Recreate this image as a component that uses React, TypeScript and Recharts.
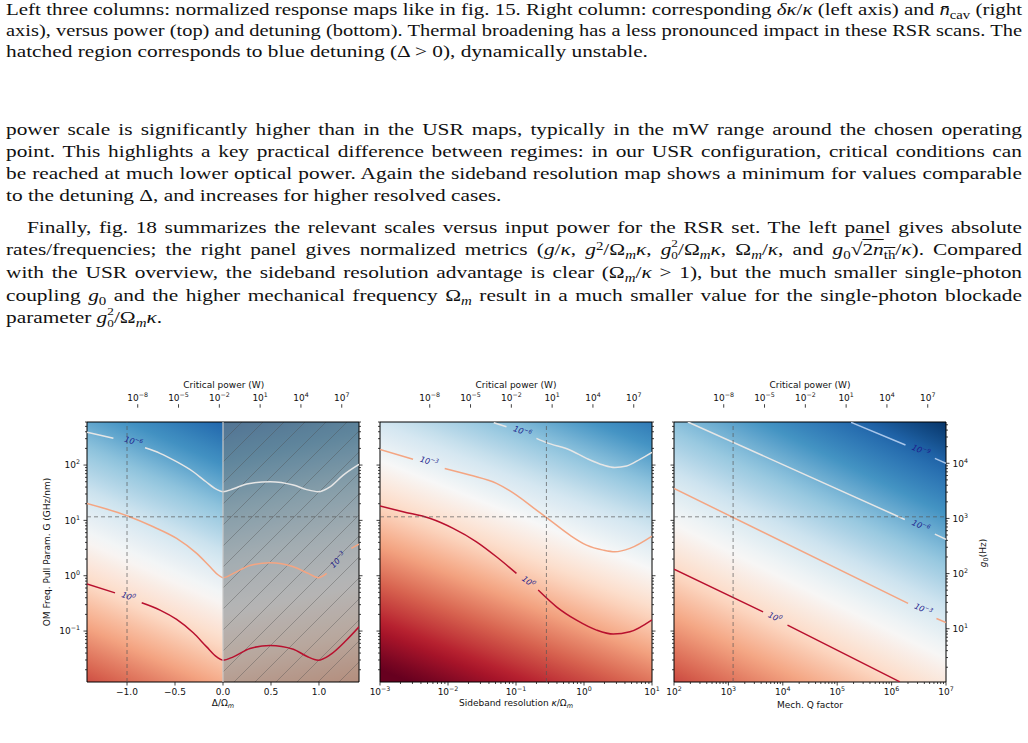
import React, { useLayoutEffect, useRef, useState } from 'react';
import { ComposedChart, Line, XAxis, YAxis, ReferenceArea, ReferenceLine, ReferenceDot } from 'recharts';

type Pt = [number, number | null];

// Critical-power contours, detuning sweep (x: Δ/Ωm, y: G in GHz/nm). null = gap for the inline label
const detuningLevelM6: Pt[] = [
  [-1.417, 392], [-1.142, 304], [-0.98, null], [-0.8125, 205], [-0.656, 163], [-0.484, 115],
  [-0.31, 75.7], [-0.177, 49.9], [-0.066, 36.3], [0, 33], [0.108, 37.3], [0.247, 45.3],
  [0.49, 50], [0.733, 43.5], [0.872, 36], [0.993, 33], [1.115, 40.5], [1.253, 66], [1.417, 103],
];
const detuningLevelM3: Pt[] = [
  [-1.417, 20.2], [-0.993, 12], [-0.726, 7.66], [-0.483, 4.72], [-0.274, 2.53], [-0.135, 1.45],
  [-0.049, 1.03], [0, 0.92], [0.108, 1.1], [0.281, 1.53], [0.49, 1.71], [0.733, 1.45],
  [0.889, 1.1], [0.993, 0.92], [1.08, 1.1], [1.2, null], [1.337, 3.12], [1.417, 3.72],
];
const detuningLevel0: Pt[] = [
  [-1.417, 0.71], [-1.125, 0.49], [-0.99, null], [-0.847, 0.324], [-0.656, 0.239], [-0.483, 0.162],
  [-0.31, 0.093], [-0.17, 0.0518], [-0.066, 0.0342], [0, 0.0298], [0.108, 0.0342], [0.281, 0.0484],
  [0.49, 0.055], [0.733, 0.047], [0.872, 0.035], [0.993, 0.0298], [1.115, 0.037], [1.285, 0.068], [1.417, 0.119],
];

// Sideband resolution sweep (x: κ/Ωm)
const sidebandLevelM6: Pt[] = [
  [0.0471, 582], [0.0724, 493], [0.124, null], [0.2, 304], [0.281, 254], [0.619, 187], [1.09, 132],
  [1.92, 100], [2.84, 90.8], [4.23, 96], [6.64, 127], [10, 170],
];
const sidebandLevelM3: Pt[] = [
  [0.001, 192], [0.00306, 127], [0.0053, null], [0.00895, 87], [0.0209, 65.9], [0.0516, 46.7],
  [0.1016, 28.7], [0.2, 15.3], [0.315, 10.1], [0.619, 5.42], [1.09, 3.57], [1.92, 2.9],
  [2.84, 2.71], [4.73, 3.12], [10, 5.2],
];
const sidebandLevel0: Pt[] = [
  [0.001, 18.2], [0.00218, 14.3], [0.00538, 10.9], [0.0119, 7.16], [0.0262, 4.1], [0.0516, 2.2],
  [0.1016, 1.1], [0.151, null], [0.212, 0.55], [0.394, 0.274], [0.776, 0.157], [1.53, 0.104],
  [2.69, 0.088], [4.73, 0.097], [10, 0.16],
];

// Mechanical Q sweep (x: Q)
const qLevelM9: Pt[] = [[1.8e5, 590], [1.8e6, 230], [3.44e6, null], [6.24e6, 132], [1e7, 107]];
const qLevelM6: Pt[] = [[180, 600], [1.75e6, 10.4], [3.44e6, null], [6.24e6, 5.65], [1e7, 4.53]];
const qLevelM3: Pt[] = [[100, 37.8], [2.01e6, 0.316], [3.8e6, null], [6.68e6, 0.169], [1e7, 0.143]];
const qLevel0: Pt[] = [[100, 1.315], [4340, 0.222], [7110, null], [1.22e4, 0.128], [1.42e6, 0.0121]];

// inline contour labels: position in data units, exponent, rotation
const detuningLabels = [
  { x: -0.934, y: 264, exp: '−6', angle: 17 },
  { x: 1.2, y: 1.91, exp: '−3', angle: -45 },
  { x: -0.986, y: 0.416, exp: '0', angle: 20 },
];
const sidebandLabels = [
  { x: 0.124, y: 400, exp: '−6', angle: 21 },
  { x: 0.00526, y: 115, exp: '−3', angle: 16 },
  { x: 0.151, y: 0.776, exp: '0', angle: 37 },
];
const qLabels = [
  { x: 3.44e6, y: 182, exp: '−9', angle: 23 },
  { x: 3.44e6, y: 7.89, exp: '−6', angle: 25 },
  { x: 3.8e6, y: 0.245, exp: '−3', angle: 25 },
  { x: 7110, y: 0.176, exp: '0', angle: 25 },
];

// operating point markers
const G_OPERATING = 11.6;
const DETUNING_OPERATING = -1;
const SIDEBAND_OPERATING = 0.28;
const Q_OPERATING = 1220;

const detuningTicks = [-1, -0.5, 0, 0.5, 1];
const powerTicks = [1e-8, 1e-5, 1e-2, 1e1, 1e4, 1e7];

const G_DOMAIN: [number, number] = [0.012, 600];
const G0_DOMAIN: [number, number] = [1.08, 56100];
const DETUNING_DOMAIN: [number, number] = [-1.417, 1.417];
const SIDEBAND_DOMAIN: [number, number] = [1e-3, 10];
const Q_DOMAIN: [number, number] = [1e2, 1e7];
const CB_LO = -10.7;
const CB_HI = 7.35;
const POWER_DOMAIN: [number, number] = [Math.pow(10, CB_LO), Math.pow(10, CB_HI)];

const C_LIGHT = '#e6e6e6';
const C_ORANGE = '#f4a582';
const C_RED = '#b8102e';
const C_PALE_BLUE = '#a9c6ea';
const LABEL_BLUE = '#1d1d8c';
const FONT = "'DejaVu Sans', sans-serif";

const RDBU_R = ['#053061', '#2166ac', '#4393c3', '#92c5de', '#d1e5f0', '#f7f7f7', '#fddbc7', '#f4a582', '#d6604d', '#b2182b', '#67001f'];

function cmap(t: number) {
  const s = Math.max(0, Math.min(1, t)) * 10;
  const i = Math.min(9, Math.floor(s));
  const f = s - i;
  const a = RDBU_R[i], b = RDBU_R[i + 1];
  const ch = (h: string, k: number) => parseInt(h.slice(1 + 2 * k, 3 + 2 * k), 16);
  const mix = [0, 1, 2].map((k) => Math.round(ch(a, k) * (1 - f) + ch(b, k) * f));
  return `rgb(${mix.join(',')})`;
}

function logTicks(lo: number, hi: number) {
  const out: number[] = [];
  for (let e = Math.floor(Math.log10(lo)); e <= Math.ceil(Math.log10(hi)); e++) {
    for (let m = 1; m <= 9; m++) {
      const v = m * Math.pow(10, e);
      if (v >= lo * 0.999 && v <= hi * 1.001) out.push(v);
    }
  }
  return out;
}

const isDecade = (v: number) => Math.abs(Math.log10(v) - Math.round(Math.log10(v))) < 1e-6;

const G_TICKS = logTicks(G_DOMAIN[0], G_DOMAIN[1]);
const G0_TICKS = logTicks(G0_DOMAIN[0], G0_DOMAIN[1]);
const SIDEBAND_TICKS = logTicks(SIDEBAND_DOMAIN[0], SIDEBAND_DOMAIN[1]);
const Q_TICKS = logTicks(Q_DOMAIN[0], Q_DOMAIN[1]);

const rows = (pts: Pt[]) => pts.map(([x, y]) => ({ x, y }));

// log10(P) = a + b*u + c*v over the unit box of the area it fills
function FieldGradient({ id, a, b, c }: { id: string; a: number; b: number; c: number }) {
  const r = Math.hypot(b, c);
  const dx = b / r, dy = c / r;
  const L = 0.5 * (Math.abs(dx) + Math.abs(dy));
  const mid = a + b / 2 + c / 2;
  const p0 = mid - r * L, p1 = mid + r * L;
  const n = 30;
  return (
    <linearGradient id={id} x1={0.5 - dx * L} y1={0.5 - dy * L} x2={0.5 + dx * L} y2={0.5 + dy * L}>
      {Array.from({ length: n + 1 }, (_, i) => {
        const o = i / n;
        const lp = p0 + (p1 - p0) * o;
        return <stop key={i} offset={o} stopColor={cmap((lp - CB_LO) / (CB_HI - CB_LO))} />;
      })}
    </linearGradient>
  );
}

function TickLabel({ x, y, v, fmt, anchor }: { x: number; y: number; v: number; fmt: string; anchor: 'start' | 'middle' | 'end' }) {
  if (fmt === 'lin') {
    return (
      <text x={x} y={y} textAnchor={anchor} fontSize={9} fontFamily={FONT} fill="#111">
        {v.toFixed(1).replace('-', '−')}
      </text>
    );
  }
  const e = Math.round(Math.log10(v));
  return (
    <text x={x} y={y} textAnchor={anchor} fontSize={9} fontFamily={FONT} fill="#111">
      10<tspan dy={-4} fontSize={6.3}>{String(e).replace('-', '−')}</tspan>
    </text>
  );
}

function AxisTick(props: any) {
  const { x, y, payload, side, show, fmt } = props;
  const v: number = payload.value;
  const major = fmt === 'lin' || isDecade(v);
  const len = major ? 3.5 : 2;
  const ls = { stroke: '#111', strokeWidth: 0.8 };
  if (side === 'left') {
    return (
      <g>
        <line x1={x} y1={y} x2={x - len} y2={y} {...ls} />
        {show && major && <TickLabel x={x - 7} y={y + 3.3} v={v} fmt={fmt} anchor="end" />}
      </g>
    );
  }
  if (side === 'right') {
    return (
      <g>
        <line x1={x} y1={y} x2={x + len} y2={y} {...ls} />
        {show && major && <TickLabel x={x + 6.5} y={y + 3.3} v={v} fmt={fmt} anchor="start" />}
      </g>
    );
  }
  if (side === 'top') {
    return (
      <g>
        <line x1={x} y1={y} x2={x} y2={y - len} {...ls} />
        {show && major && <TickLabel x={x} y={y - 7} v={v} fmt={fmt} anchor="middle" />}
      </g>
    );
  }
  return (
    <g>
      <line x1={x} y1={y} x2={x} y2={y + len} {...ls} />
      {show && major && <TickLabel x={x} y={y + 13} v={v} fmt={fmt} anchor="middle" />}
    </g>
  );
}

function LevelLabel(props: any) {
  const { cx, cy, exp, angle } = props;
  return (
    <text x={cx} y={cy} transform={`rotate(${angle} ${cx} ${cy})`} textAnchor="middle" dominantBaseline="central"
      fontSize={8} fontStyle="italic" fontFamily={FONT} fill={LABEL_BLUE}>
      10<tspan dy={-3} fontSize={5.6}>{exp}</tspan>
    </text>
  );
}

function contour(key: string, pts: Pt[], color: string, curve: 'monotone' | 'linear') {
  return (
    <Line key={key} yAxisId="G" data={rows(pts)} dataKey="y" type={curve} stroke={color} strokeWidth={1.5}
      dot={false} activeDot={false} connectNulls={false} isAnimationActive={false} />
  );
}

function levelLabels(key: string, list: { x: number; y: number; exp: string; angle: number }[]) {
  return list.map((l, i) => (
    <ReferenceDot key={`${key}${i}`} yAxisId="G" x={l.x} y={l.y} r={0}
      shape={(p: any) => <LevelLabel cx={p.cx} cy={p.cy} exp={l.exp} angle={l.angle} />} />
  ));
}

function operatingLines(key: string, x: number) {
  return [
    <ReferenceLine key={`${key}v`} yAxisId="G" x={x} stroke="#555" strokeOpacity={0.75} strokeDasharray="4 3" strokeWidth={0.9} />,
    <ReferenceLine key={`${key}h`} yAxisId="G" y={G_OPERATING} stroke="#555" strokeOpacity={0.75} strokeDasharray="4 3" strokeWidth={0.9} />,
  ];
}

type PanelProps = {
  left: number;
  width: number;
  leftW: number;
  rightW: number;
  xDomain: [number, number];
  xScale: 'linear' | 'log';
  xTicks: number[];
  xFmt: 'lin' | 'log';
  g0Axis?: boolean;
  defs: React.ReactNode;
  children: React.ReactNode;
};

function MapPanel({ left, width, leftW, rightW, xDomain, xScale, xTicks, xFmt, g0Axis, defs, children }: PanelProps) {
  return (
    <div style={{ position: 'absolute', left, top: 412 }}>
      <ComposedChart width={width} height={310} margin={{ top: 10, right: 0, bottom: 10, left: 0 }}>
        <defs>{defs}</defs>
        <XAxis type="number" dataKey="x" scale={xScale} domain={xDomain} ticks={xTicks} interval={0} allowDataOverflow
          height={30} tickSize={0} tickMargin={0} axisLine={false} tick={<AxisTick side="bottom" show fmt={xFmt} />} />
        <YAxis yAxisId="G" type="number" scale="log" domain={G_DOMAIN} ticks={G_TICKS} interval={0} allowDataOverflow
          width={leftW} tickSize={0} tickMargin={0} axisLine={false}
          tick={<AxisTick side="left" show={leftW > 40} fmt="log" />} />
        {g0Axis ? (
          <YAxis yAxisId="R" orientation="right" type="number" scale="log" domain={G0_DOMAIN} ticks={G0_TICKS} interval={0}
            allowDataOverflow width={rightW} tickSize={0} tickMargin={0} axisLine={false}
            tick={<AxisTick side="right" show fmt="log" />} />
        ) : (
          <YAxis yAxisId="R" orientation="right" type="number" scale="log" domain={G_DOMAIN} ticks={G_TICKS} interval={0}
            allowDataOverflow width={rightW} tickSize={0} tickMargin={0} axisLine={false}
            tick={<AxisTick side="right" show={false} fmt="log" />} />
        )}
        {children}
        <ReferenceArea yAxisId="G" x1={xDomain[0]} x2={xDomain[1]} y1={G_DOMAIN[0]} y2={G_DOMAIN[1]}
          fill="none" stroke="#000" strokeWidth={1} fillOpacity={0} />
      </ComposedChart>
    </div>
  );
}

function ColorBar({ left, id }: { left: number; id: string }) {
  return (
    <>
      <div style={{ position: 'absolute', left: left + 122.75, top: 384.5, transform: 'translate(-50%, -50%)', fontFamily: FONT, fontSize: 9, lineHeight: '11px', whiteSpace: 'nowrap', color: '#111' }}>
        Critical power (W)
      </div>
      <div style={{ position: 'absolute', left: left - 10, top: 370 }}>
        <ComposedChart width={265.5} height={50} margin={{ top: 17.7, right: 10, bottom: 6, left: 10 }}>
          <defs>
            <linearGradient id={id} x1={0} y1={0} x2={1} y2={0}>
              {RDBU_R.map((c, i) => <stop key={i} offset={i / 10} stopColor={c} />)}
            </linearGradient>
          </defs>
          <XAxis type="number" dataKey="x" orientation="top" scale="log" domain={POWER_DOMAIN} ticks={powerTicks} interval={0}
            allowDataOverflow height={20} tickSize={0} tickMargin={0} axisLine={false} tick={<AxisTick side="top" show fmt="log" />} />
          <YAxis hide type="number" domain={[0, 1]} />
          <ReferenceArea x1={POWER_DOMAIN[0]} x2={POWER_DOMAIN[1]} y1={0} y2={1} fill={`url(#${id})`} fillOpacity={1}
            stroke="#000" strokeWidth={0.8} />
        </ComposedChart>
      </div>
    </>
  );
}

function AxisTitle({ x, y, rotate, children }: { x: number; y: number; rotate?: boolean; children: React.ReactNode }) {
  return (
    <div style={{
      position: 'absolute', left: x, top: y, transform: `translate(-50%, -50%)${rotate ? ' rotate(-90deg)' : ''}`,
      fontFamily: FONT, fontSize: 9, lineHeight: '11px', whiteSpace: 'nowrap', color: '#111',
    }}>
      {children}
    </div>
  );
}

const Sub = ({ children }: { children: React.ReactNode }) => (
  <span style={{ fontSize: '0.7em', position: 'relative', top: '0.3em', lineHeight: 0 }}>{children}</span>
);
const Sup = ({ children }: { children: React.ReactNode }) => (
  <span style={{ fontSize: '0.7em', position: 'relative', top: '-0.45em', lineHeight: 0 }}>{children}</span>
);
// superscript stacked over a subscript; negative margins keep the line box height
const SubSup = ({ sub, sup }: { sub: string; sup: string }) => (
  <span style={{
    display: 'inline-block', fontSize: '0.62em', lineHeight: '1.16em', verticalAlign: '-0.38em', textAlign: 'left',
    marginTop: '-0.8em', marginBottom: '-0.8em',
  }}>
    {sup}<br />{sub}
  </span>
);
const Om = () => <>Ω<Sub><i>m</i></Sub></>;

type ProseLine = { top: number; indent?: number; last?: boolean; body: React.ReactNode };

const proseLines: ProseLine[] = [
  { top: -1, body: <>Left three columns: normalized response maps like in fig. 15. Right column: corresponding <i>δκ</i>/<i>κ</i> (left axis) and <i>n̄</i><Sub>cav</Sub> (right</> },
  { top: 20, body: <>axis), versus power (top) and detuning (bottom). Thermal broadening has a less pronounced impact in these RSR scans. The</> },
  { top: 41, last: true, body: <>hatched region corresponds to blue detuning (Δ &gt; 0), dynamically unstable.</> },
  { top: 119, body: <>power scale is significantly higher than in the USR maps, typically in the mW range around the chosen operating</> },
  { top: 141, body: <>point. This highlights a key practical difference between regimes: in our USR configuration, critical conditions can</> },
  { top: 163, body: <>be reached at much lower optical power. Again the sideband resolution map shows a minimum for values comparable</> },
  { top: 185, last: true, body: <>to the detuning Δ, and increases for higher resolved cases.</> },
  { top: 217, indent: 21, body: <>Finally, fig. 18 summarizes the relevant scales versus input power for the RSR set. The left panel gives absolute</> },
  {
    top: 239, body: <>rates/frequencies; the right panel gives normalized metrics (<i>g</i>/<i>κ</i>, <i>g</i><Sup>2</Sup>/<Om /><i>κ</i>, <i>g</i><SubSup sub="0" sup="2" />/<Om /><i>κ</i>, <Om />/<i>κ</i>, and <i>g</i><Sub>0</Sub>√<span style={{ textDecoration: 'overline' }}>2<i>n</i><Sub>th</Sub></span>/<i>κ</i>). Compared</>,
  },
  { top: 262, body: <>with the USR overview, the sideband resolution advantage is clear (<Om />/<i>κ</i> &gt; 1), but the much smaller single-photon</> },
  { top: 285, body: <>coupling <i>g</i><Sub>0</Sub> and the higher mechanical frequency <Om /> result in a much smaller value for the single-photon blockade</> },
  { top: 307, last: true, body: <>parameter <i>g</i><SubSup sub="0" sup="2" />/<Om /><i>κ</i>.</> },
];

const PROSE_STRETCH = 1.255;
const PROSE_WIDTH = 1016;

// each row is stretched horizontally; full rows shrink the stretch if their natural width needs it
function ProseRow({ line }: { line: ProseLine }) {
  const ref = useRef<HTMLSpanElement>(null);
  const [stretch, setStretch] = useState<number | null>(null);
  const indent = line.indent ?? 0;
  const avail = PROSE_WIDTH - indent;
  useLayoutEffect(() => {
    if (stretch !== null || !ref.current) return;
    const natural = ref.current.getBoundingClientRect().width;
    setStretch(line.last ? PROSE_STRETCH : Math.min(PROSE_STRETCH, (avail - 1) / natural));
  }, [stretch, avail, line.last]);
  const s = stretch ?? 1;
  const justify = stretch !== null && !line.last;
  return (
    <div style={{
      position: 'absolute', left: 6 + indent, top: line.top, width: avail / s, height: 22,
      transform: `scaleX(${s})`, transformOrigin: 'left top',
      lineHeight: '22px', fontFamily: "'Liberation Serif', serif", fontSize: 17, color: '#111',
      textAlign: justify ? 'justify' : 'left', textAlignLast: justify ? 'justify' : 'left', whiteSpace: 'nowrap',
    }}>
      {stretch === null ? <span ref={ref}>{line.body}</span> : line.body}
    </div>
  );
}

function Prose() {
  return <>{proseLines.map((l, i) => <ProseRow key={i} line={l} />)}</>;
}

function HatchPattern() {
  return (
    <pattern id="unstable" patternUnits="userSpaceOnUse" width={21} height={21}>
      <rect width={21} height={21} fill="#7a7a7a" fillOpacity={0.52} />
      <path d="M-2,2 L2,-2 M0,21 L21,0 M19,23 L23,19" stroke="#4a4a4a" strokeOpacity={0.45} strokeWidth={0.8} />
    </pattern>
  );
}

export default function App() {
  return (
    <div style={{ position: 'absolute', left: 0, top: 0, width: 1028, height: 743, background: '#fff', overflow: 'hidden' }}>
      <Prose />

      <ColorBar left={101} id="cbA" />
      <ColorBar left={393.3} id="cbB" />
      <ColorBar left={687.3} id="cbC" />

      <MapPanel left={0} width={380} leftW={87} rightW={21} xDomain={DETUNING_DOMAIN} xScale="linear" xTicks={detuningTicks} xFmt="lin"
        defs={<>
          <FieldGradient id="detRed" a={-6.4} b={-2.5} c={10.6} />
          <FieldGradient id="detBlue" a={-8.55} b={1.1} c={9.4} />
          <HatchPattern />
        </>}>
        <ReferenceArea yAxisId="G" x1={DETUNING_DOMAIN[0]} x2={0} y1={G_DOMAIN[0]} y2={G_DOMAIN[1]} fill="url(#detRed)" fillOpacity={1} />
        <ReferenceArea yAxisId="G" x1={0} x2={DETUNING_DOMAIN[1]} y1={G_DOMAIN[0]} y2={G_DOMAIN[1]} fill="url(#detBlue)" fillOpacity={1} />
        {contour('d6', detuningLevelM6, C_LIGHT, 'monotone')}
        {contour('d3', detuningLevelM3, C_ORANGE, 'monotone')}
        {contour('d0', detuningLevel0, C_RED, 'monotone')}
        {levelLabels('dl', detuningLabels)}
        <ReferenceArea yAxisId="G" x1={0} x2={DETUNING_DOMAIN[1]} y1={G_DOMAIN[0]} y2={G_DOMAIN[1]} fill="url(#unstable)" fillOpacity={1} />
        <ReferenceLine yAxisId="G" x={0} stroke="#c8c8c8" strokeOpacity={0.8} strokeWidth={1.5} />
        {operatingLines('do', DETUNING_OPERATING)}
      </MapPanel>

      <MapPanel left={370} width={300} leftW={10} rightW={18} xDomain={SIDEBAND_DOMAIN} xScale="log" xTicks={SIDEBAND_TICKS} xFmt="log"
        defs={<FieldGradient id="sbField" a={-3.375} b={-4.75} c={11.35} />}>
        <ReferenceArea yAxisId="G" x1={SIDEBAND_DOMAIN[0]} x2={SIDEBAND_DOMAIN[1]} y1={G_DOMAIN[0]} y2={G_DOMAIN[1]} fill="url(#sbField)" fillOpacity={1} />
        {contour('s6', sidebandLevelM6, C_LIGHT, 'monotone')}
        {contour('s3', sidebandLevelM3, C_ORANGE, 'monotone')}
        {contour('s0', sidebandLevel0, C_RED, 'monotone')}
        {levelLabels('sl', sidebandLabels)}
        {operatingLines('so', SIDEBAND_OPERATING)}
      </MapPanel>

      <MapPanel left={664} width={364} leftW={10} rightW={82} xDomain={Q_DOMAIN} xScale="log" xTicks={Q_TICKS} xFmt="log" g0Axis
        defs={<FieldGradient id="qField" a={-5.47} b={-5.06} c={9.8} />}>
        <ReferenceArea yAxisId="G" x1={Q_DOMAIN[0]} x2={Q_DOMAIN[1]} y1={G_DOMAIN[0]} y2={G_DOMAIN[1]} fill="url(#qField)" fillOpacity={1} />
        {contour('q9', qLevelM9, C_PALE_BLUE, 'linear')}
        {contour('q6', qLevelM6, C_LIGHT, 'linear')}
        {contour('q3', qLevelM3, C_ORANGE, 'linear')}
        {contour('q0', qLevel0, C_RED, 'linear')}
        {levelLabels('ql', qLabels)}
        {operatingLines('qo', Q_OPERATING)}
      </MapPanel>

      <AxisTitle x={47} y={552} rotate>OM Freq. Pull Param. G (GHz/nm)</AxisTitle>
      <AxisTitle x={223} y={705}>Δ/Ω<sub style={{ fontSize: 6.5 }}><i>m</i></sub></AxisTitle>
      <AxisTitle x={516} y={705}>Sideband resolution <i>κ</i>/Ω<sub style={{ fontSize: 6.5 }}><i>m</i></sub></AxisTitle>
      <AxisTitle x={810} y={705}>Mech. Q factor</AxisTitle>
      <AxisTitle x={985} y={553} rotate><i>g</i><sub style={{ fontSize: 6.5 }}>0</sub>(Hz)</AxisTitle>
    </div>
  );
}
